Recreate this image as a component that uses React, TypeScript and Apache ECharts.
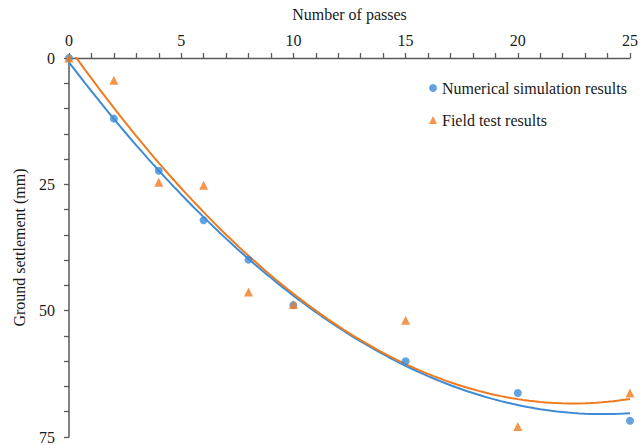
import React, { useEffect, useRef } from "react";
import * as echarts from "echarts";

const passes = [0, 2, 4, 6, 8, 10, 15, 20, 25];
const numericalSettlement = [0, 12, 22.3, 32.1, 39.9, 48.9, 60.0, 66.3, 71.8];
const fieldSettlement = [0, 4.4, 24.6, 25.2, 46.3, 48.8, 51.9, 72.9, 66.3];

const xTicks = [0, 5, 10, 15, 20, 25];
const yTicks = [0, 25, 50, 75];

const seriesNames = ["Numerical simulation results", "Field test results"];

// quadratic least-squares trendline (as in the spreadsheet's polynomial trendline)
function quadFit(xs: number[], ys: number[]) {
  const S = [0, 0, 0, 0, 0];
  const T = [0, 0, 0];
  for (let i = 0; i < xs.length; i++) {
    let p = 1;
    for (let k = 0; k < 5; k++) {
      S[k] += p;
      if (k < 3) T[k] += p * ys[i];
      p *= xs[i];
    }
  }
  const A = [
    [S[0], S[1], S[2], T[0]],
    [S[1], S[2], S[3], T[1]],
    [S[2], S[3], S[4], T[2]],
  ];
  for (let c = 0; c < 3; c++) {
    for (let r = c + 1; r < 3; r++) {
      const f = A[r][c] / A[c][c];
      for (let k = c; k < 4; k++) A[r][k] -= f * A[c][k];
    }
  }
  const coef = [0, 0, 0];
  for (let r = 2; r >= 0; r--) {
    let s = A[r][3];
    for (let k = r + 1; k < 3; k++) s -= A[r][k] * coef[k];
    coef[r] = s / A[r][r];
  }
  return coef;
}

function trendPoints(xs: number[], ys: number[]) {
  const c = quadFit(xs, ys);
  const xmin = xs[0];
  const xmax = xs[xs.length - 1];
  const pts: number[][] = [];
  const n = 100;
  for (let i = 0; i <= n; i++) {
    const x = xmin + ((xmax - xmin) * i) / n;
    pts.push([x, c[0] + c[1] * x + c[2] * x * x]);
  }
  return pts;
}

const BLUE = "#3d8bd6";
const ORANGE = "#f07a1e";
const FONT = "'Liberation Serif', 'Times New Roman', 'DejaVu Serif', serif";
const AXIS_COLOR = "#595959";

export default function App() {
  const ref = useRef<HTMLDivElement>(null);
  useEffect(() => {
    if (!ref.current) return;
    const chart = echarts.init(ref.current, null, { renderer: "svg" });
    const numPts = passes.map((x, i) => [x, numericalSettlement[i]]);
    const fieldPts = passes.map((x, i) => [x, fieldSettlement[i]]);
    chart.setOption({
      animation: false,
      backgroundColor: "#ffffff",
      textStyle: { fontFamily: FONT },
      grid: { left: 69, right: 7, top: 58, bottom: 8 },
      legend: {
        orient: "vertical",
        left: 424,
        top: 75,
        itemWidth: 8,
        itemHeight: 8,
        itemGap: 16,
        textStyle: { fontFamily: FONT, fontSize: 16, color: "#1a1a1a" },
        data: [
          { name: seriesNames[0], icon: "circle" },
          { name: seriesNames[1], icon: "triangle" },
        ],
      },
      xAxis: {
        type: "value",
        position: "top",
        min: xTicks[0],
        max: xTicks[xTicks.length - 1],
        interval: 5,
        name: "Number of passes",
        nameLocation: "middle",
        nameGap: 36,
        nameTextStyle: { fontFamily: FONT, fontSize: 16, color: "#1a1a1a" },
        axisLine: { show: true, lineStyle: { color: AXIS_COLOR, width: 1.3 } },
        axisTick: { show: true, inside: false, length: 5, lineStyle: { color: AXIS_COLOR, width: 1.3 } },
        minorTick: { show: true, splitNumber: 5, length: 5, lineStyle: { color: AXIS_COLOR, width: 1.3 } },
        splitLine: { show: false },
        axisLabel: { fontFamily: FONT, fontSize: 16, color: "#1a1a1a", margin: 10 },
      },
      yAxis: {
        type: "value",
        inverse: true,
        min: yTicks[0],
        max: yTicks[yTicks.length - 1],
        interval: 25,
        name: "Ground settlement (mm)",
        nameLocation: "middle",
        nameGap: 42,
        nameTextStyle: { fontFamily: FONT, fontSize: 16, color: "#1a1a1a" },
        axisLine: { show: true, lineStyle: { color: AXIS_COLOR, width: 1.5 } },
        axisTick: { show: true, inside: false, length: 5, lineStyle: { color: AXIS_COLOR, width: 1.3 } },
        minorTick: { show: true, splitNumber: 5, length: 5, lineStyle: { color: AXIS_COLOR, width: 1.3 } },
        splitLine: { show: false },
        axisLabel: { fontFamily: FONT, fontSize: 16, color: "#1a1a1a", margin: 14 },
      },
      series: [
        {
          name: seriesNames[0] + " trend",
          type: "line",
          data: trendPoints(passes, numericalSettlement),
          showSymbol: false,
          symbol: "none",
          lineStyle: { color: BLUE, width: 2 },
          clip: true,
          z: 2,
        },
        {
          name: seriesNames[1] + " trend",
          type: "line",
          data: trendPoints(passes, fieldSettlement),
          showSymbol: false,
          symbol: "none",
          lineStyle: { color: ORANGE, width: 2 },
          clip: true,
          z: 2,
        },
        {
          name: seriesNames[0],
          type: "scatter",
          data: numPts,
          symbol: "circle",
          symbolSize: 8,
          itemStyle: { color: BLUE },
          clip: false,
          z: 3,
        },
        {
          name: seriesNames[1],
          type: "scatter",
          data: fieldPts,
          symbol: "triangle",
          symbolSize: 9,
          itemStyle: { color: ORANGE },
          clip: false,
          z: 4,
        },
      ],
    });
    return () => chart.dispose();
  }, []);
  return (
    <div
      ref={ref}
      style={{ position: "absolute", left: 0, top: 0, width: 641, height: 445 }}
    />
  );
}
